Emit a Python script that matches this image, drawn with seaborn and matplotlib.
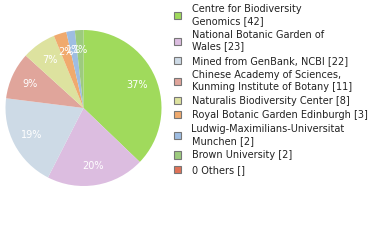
import matplotlib
matplotlib.use("Agg")
import matplotlib.pyplot as plt
import seaborn as sns

sns.set_theme(style="white")
plt.rcParams['font.family'] = ['DejaVu Sans']

labels = ["Centre for Biodiversity\nGenomics [42]",
          "National Botanic Garden of\nWales [23]",
          "Mined from GenBank, NCBI [22]",
          "Chinese Academy of Sciences,\nKunming Institute of Botany [11]",
          "Naturalis Biodiversity Center [8]",
          "Royal Botanic Garden Edinburgh [3]",
          "Ludwig-Maximilians-Universitat\nMunchen [2]",
          "Brown University [2]",
          "0 Others []"]
values = [42, 23, 22, 11, 8, 3, 2, 2, 0]
colors = ["#a0da5c", "#dcbde0", "#cddae6", "#e0a59b", "#dde29f",
          "#f0aa6e", "#9ebde2", "#9dcb7e", "#e07257"]

fig = plt.figure(figsize=(3.8, 2.4), dpi=100)
ax = fig.add_axes([5.5/380, (240-186)/240, 156/380, 156/240])
wedges, texts, autotexts = ax.pie(values, colors=colors, startangle=90, counterclock=False,
                                  autopct=lambda p: f"{int(p)}%" if p > 0 else "",
                                  pctdistance=0.75,
                                  wedgeprops=dict(linewidth=0),
                                  textprops=dict(color="white", fontsize=7))
ax.set_xlim(-1, 1)
ax.set_ylim(-1, 1)
ax.set_aspect("equal")

leg = fig.legend(wedges, labels, loc="upper left", bbox_to_anchor=(174/380, 1 - 4/240),
                 frameon=False, fontsize=7, handlelength=0.75, handleheight=0.75,
                 handletextpad=1.05, labelspacing=0.44, borderpad=0, borderaxespad=0)
for t in leg.get_texts():
    t.set_color("#222222")
for h in leg.legend_handles:
    h.set_edgecolor("#777777")
    h.set_linewidth(0.8)

fig.savefig("out.png", dpi=100)
